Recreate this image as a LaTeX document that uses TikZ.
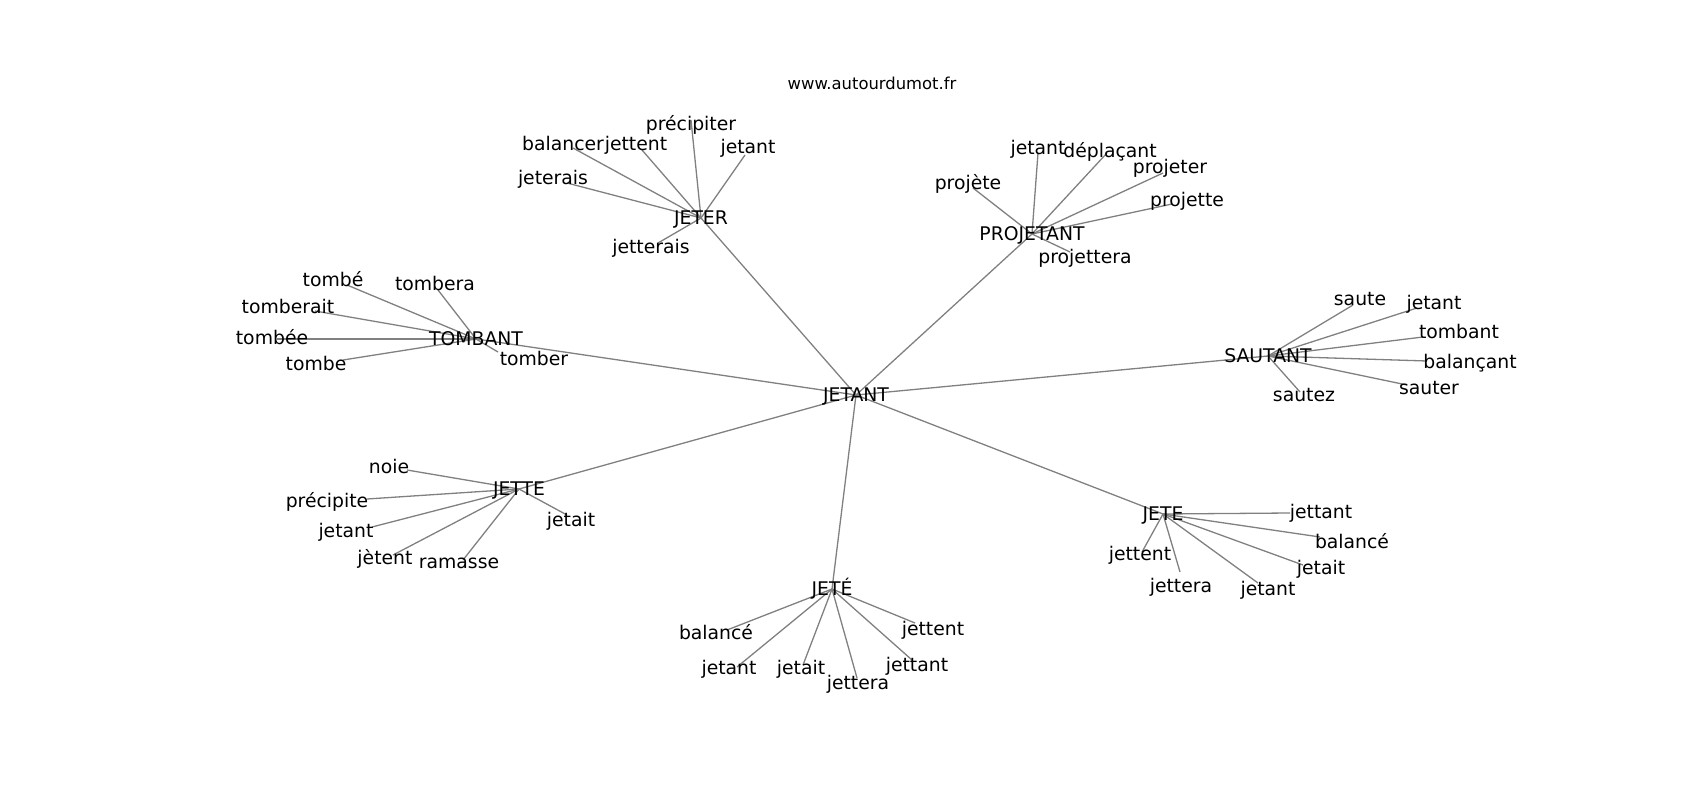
\documentclass[tikz,border=0pt]{standalone}
\usepackage{fontspec}
\setmainfont{DejaVu Sans}
\usetikzlibrary{backgrounds}

\begin{document}
\begin{tikzpicture}[x=1pt, y=-1pt,
    word/.style={inner sep=0pt, font=\fontsize{18.8}{22}\selectfont, text height=13.7pt, text depth=0pt},
    hub/.style={word},
    edge/.style={draw=gray, line width=1.3pt}]
    \useasboundingbox (0,0) rectangle (1700,800);

    \node[inner sep=0pt, font=\fontsize{16.4}{20}\selectfont, text height=12pt, text depth=0pt] (site) at (872,83) {www.autourdumot.fr};

    % hubs
    \node[hub] (jetant) at (856,395) {JETANT};
    \node[hub] (jeter) at (701,218) {JETER};
    \node[hub] (projetant) at (1032,234) {PROJETANT};
    \node[hub] (tombant) at (476,339) {TOMBANT};
    \node[hub] (sautant) at (1268,356) {SAUTANT};
    \node[hub] (jette) at (519,489) {JETTE};
    \node[hub] (jeteacc) at (832,589) {JETÉ};
    \node[hub] (jete) at (1163,514) {JETE};

    \begin{pgfonlayer}{background}
    \foreach \h in {jeter, projetant, tombant, sautant, jette, jeteacc, jete}
        \draw[edge] (jetant.center) -- (\h.center);
    \end{pgfonlayer}

    % leaves: edge end / text position / word
    \foreach \h/\list in {
        jeter/{691/120/691/124/précipiter, 573/148/563/144/balancer, 642/150/636/144/jettent, 745/155/748/147/jetant, 567/183/553/178/jeterais, 658/243/651/247/jetterais},
        projetant/{1038/153/1038/148/jetant, 1107/153/1110/151/déplaçant, 1163/173/1170/167/projeter, 973/188/968/183/projète, 1172/204/1187/200/projette, 1070/252/1085/257/projettera},
        tombant/{347/285/333/280/tombé, 438/290/435/284/tombera, 315/311/288/307/tomberait, 277/339/272/338/tombée, 343/360/316/364/tombe, 498/352/534/359/tomber},
        sautant/{1353/305/1360/299/saute, 1417/308/1434/303/jetant, 1423/337/1459/332/tombant, 1427/361/1470/362/balançant, 1407/385/1429/388/sauter, 1300/392/1304/395/sautez},
        jette/{407/470/389/467/noie, 367/499/327/501/précipite, 372/527/346/531/jetant, 393/555/385/558/jètent, 463/560/459/562/ramasse, 567/515/571/520/jetait},
        jeteacc/{727/630/716/633/balancé, 737/667/729/668/jetant, 803/665/801/668/jetait, 857/678/858/683/jettera, 912/660/917/665/jettant, 915/623/933/629/jettent},
        jete/{1290/513/1321/512/jettant, 1320/537/1352/542/balancé, 1303/565/1321/568/jetait, 1258/583/1268/589/jetant, 1180/572/1181/586/jettera, 1142/552/1140/554/jettent}}
    {
        \foreach \ex/\ey/\tx/\ty/\w [count=\i] in \list {
            \coordinate (\h-\i) at (\ex,\ey);
            \node[word] (\h-w\i) at (\tx,\ty) {\w};
            \begin{pgfonlayer}{background}
            \draw[edge] (\h.center) -- (\h-\i);
            \end{pgfonlayer}
        }
    }
\end{tikzpicture}
\end{document}
